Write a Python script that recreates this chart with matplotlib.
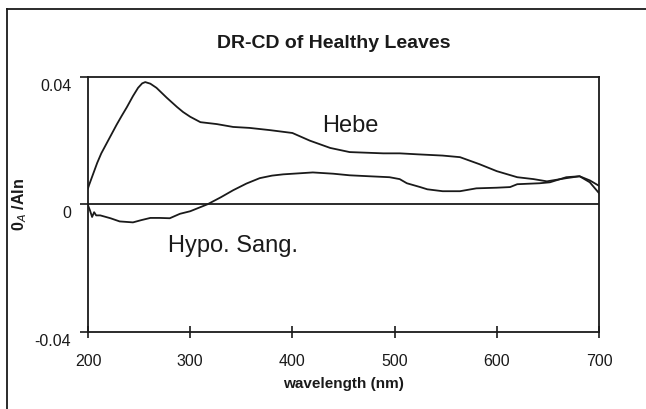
import matplotlib
matplotlib.use("Agg")
import matplotlib.pyplot as plt
import matplotlib.transforms as mtransforms
from matplotlib.lines import Line2D

plt.rcParams['font.family'] = ['Liberation Sans', 'DejaVu Sans']

# Data
hebe_nm = [200, 201, 205, 209, 213, 218, 223, 228, 233, 238, 244, 249, 253, 256, 261, 267,
           277, 287, 293, 300, 310, 326, 342, 358, 378, 400, 417, 437, 456, 489, 505,
           522, 547, 564, 583, 600, 620, 636, 649, 668, 681, 691, 700]
hebe_val = [0.005, 0.006, 0.0095, 0.013, 0.016, 0.019, 0.022, 0.025, 0.0278, 0.0305, 0.0340,
            0.0366, 0.0380, 0.0384, 0.0379, 0.0366, 0.0335, 0.0306, 0.029, 0.0275, 0.0258,
            0.0252, 0.0243, 0.024, 0.0233, 0.0224, 0.020, 0.0177, 0.0164, 0.016, 0.016,
            0.0157, 0.0153, 0.0148, 0.0126, 0.0104, 0.0085, 0.0079, 0.0072, 0.0082, 0.0088,
            0.0075, 0.0058]

hypo_nm = [200, 202, 204, 206, 208, 212, 222, 231, 244, 252, 261, 270, 280, 290, 300,
           317, 330, 342, 355, 368, 380, 391, 420, 440, 456, 475, 495, 505, 512, 525,
           532, 547, 564, 580, 600, 613, 620, 642, 652, 668, 681, 691, 700]
hypo_val = [-0.0003, -0.002, -0.004, -0.0025, -0.0035, -0.0035, -0.0044, -0.0054, -0.0057,
            -0.005, -0.0043, -0.0043, -0.0044, -0.003, -0.0022, 0.0, 0.0022, 0.0044, 0.0065,
            0.0082, 0.009, 0.0094, 0.0100, 0.0096, 0.0091, 0.0088, 0.0085, 0.0079, 0.0066,
            0.0054, 0.0047, 0.0041, 0.0041, 0.005, 0.0052, 0.0054, 0.0063, 0.0066, 0.0069,
            0.0085, 0.0088, 0.0069, 0.0035]

x_ticks = [200, 300, 400, 500, 600, 700]
y_ticks = [-0.04, 0, 0.04]
y_ticklabels = ['-0.04', '0', '0.04']

title = 'DR-CD of Healthy Leaves'
xlabel = 'wavelength (nm)'
ylabel = '0$_{A}$ /AIn'

W, H = 646, 409
fig = plt.figure(figsize=(W / 100, H / 100), dpi=100)
fig.patch.set_facecolor('white')

ax = fig.add_axes([88 / W, 1 - 331.5 / H, (599 - 88) / W, (331.5 - 77) / H])
ax.plot(hebe_nm, hebe_val, color='#1a1a1a', lw=1.3)
ax.plot(hypo_nm, hypo_val, color='#1a1a1a', lw=1.3)
ax.axhline(0, color='#1a1a1a', lw=1.3)

ax.set_xlim(200, 700)
ax.set_ylim(-0.04, 0.04)
ax.set_xticks(x_ticks)
ax.set_xticklabels([str(t) for t in x_ticks])
ax.set_yticks(y_ticks)
ax.set_yticklabels(y_ticklabels)

for s in ax.spines.values():
    s.set_linewidth(1.3)
    s.set_color('#1a1a1a')

ax.tick_params(axis='x', direction='inout', length=8, width=1.2, pad=12,
               labelsize=11.5, colors='#1a1a1a')
ax.tick_params(axis='y', direction='out', length=6, width=1.2, pad=6,
               labelsize=11.5, colors='#1a1a1a')

offset = mtransforms.ScaledTranslation(0, -8 / 100, fig.dpi_scale_trans)
for lab in ax.get_yticklabels():
    lab.set_transform(lab.get_transform() + offset)

ax.text(429, 0.0227, 'Hebe', fontsize=17, ha='left', va='baseline', color='#1a1a1a')
ax.text(278, -0.0150, 'Hypo. Sang.', fontsize=17, ha='left', va='baseline', color='#1a1a1a')

fig.text(334 / W, 1 - 48 / H, title, fontsize=14, fontweight='bold',
         ha='center', va='baseline', color='#1a1a1a')
fig.text(343.5 / W, 1 - 384 / H, xlabel, fontsize=11, fontweight='bold',
         ha='center', va='center', color='#1a1a1a')
fig.text(20 / W, 1 - 205 / H, ylabel, fontsize=11.5, fontweight='bold',
         ha='center', va='center', rotation=90, color='#1a1a1a')

# outer frame (top and left edges visible)
fig.add_artist(Line2D([7 / W, 7 / W], [0, 1 - 9 / H], transform=fig.transFigure,
                      color='#1a1a1a', lw=1.3))
fig.add_artist(Line2D([7 / W, 1], [1 - 9 / H, 1 - 9 / H], transform=fig.transFigure,
                      color='#1a1a1a', lw=1.3))

fig.savefig('out.png', dpi=100)
